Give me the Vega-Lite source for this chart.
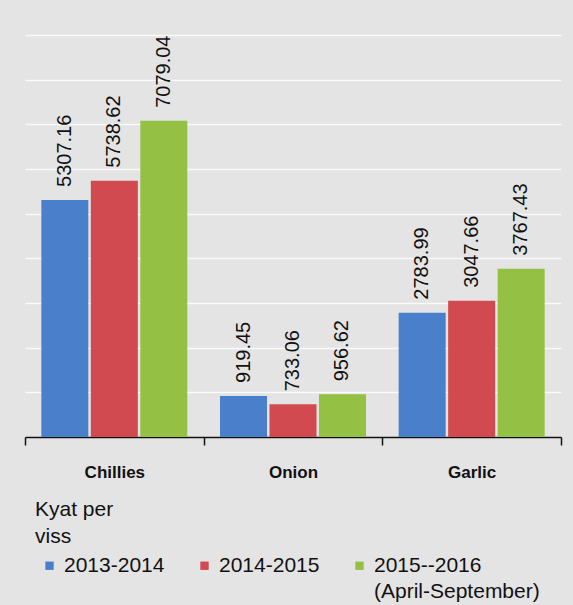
{
  "$schema": "https://vega.github.io/schema/vega-lite/v6.json",
  "width": 536,
  "height": 402,
  "autosize": {"type": "none"},
  "padding": {"left": 25, "top": 35, "right": 12, "bottom": 168},
  "background": "#e4e4e4",
  "config": {
    "view": {"stroke": null},
    "font": "Liberation Sans",
    "style": {"guide-label": {"lineHeight": 26}}
  },
  "data": {
    "values": [
      {"crop": "Chillies", "period": "2013-2014", "price": 5307.16},
      {"crop": "Chillies", "period": "2014-2015", "price": 5738.62},
      {"crop": "Chillies", "period": "2015--2016 (April-September)", "price": 7079.04},
      {"crop": "Onion", "period": "2013-2014", "price": 919.45},
      {"crop": "Onion", "period": "2014-2015", "price": 733.06},
      {"crop": "Onion", "period": "2015--2016 (April-September)", "price": 956.62},
      {"crop": "Garlic", "period": "2013-2014", "price": 2783.99},
      {"crop": "Garlic", "period": "2014-2015", "price": 3047.66},
      {"crop": "Garlic", "period": "2015--2016 (April-September)", "price": 3767.43}
    ]
  },
  "encoding": {
    "x": {
      "field": "crop", "type": "nominal", "sort": ["Chillies", "Onion", "Garlic"],
      "scale": {"paddingInner": 0, "paddingOuter": 0},
      "axis": {
        "title": null, "labelAngle": 0, "labelFontWeight": "bold", "labelFontSize": 17,
        "labelColor": "#111", "labelPadding": 19, "tickBand": "extent", "tickSize": 8,
        "tickColor": "#111", "tickWidth": 1.5, "domainColor": "#111", "domainWidth": 1.5,
        "grid": false
      }
    },
    "xOffset": {"field": "period", "type": "nominal", "scale": {"paddingInner": 0.05, "paddingOuter": 0.33}},
    "y": {
      "field": "price", "type": "quantitative",
      "scale": {"domain": [0, 9000]},
      "axis": {
        "title": null, "labels": false, "ticks": false, "domain": false,
        "gridColor": "#ffffff", "gridWidth": 1.5, "gridOpacity": 0.8,
        "values": [1000, 2000, 3000, 4000, 5000, 6000, 7000, 8000, 9000]
      }
    }
  },
  "layer": [
    {
      "mark": {"type": "bar"},
      "encoding": {
        "color": {
          "field": "period", "type": "nominal",
          "scale": {
            "domain": ["2013-2014", "2014-2015", "2015--2016 (April-September)"],
            "range": ["#4a80cb", "#d04a4f", "#94c043"]
          },
          "legend": {
            "orient": "none", "legendX": 10, "legendY": 464, "direction": "horizontal",
            "padding": 0,
            "title": ["Kyat per", "viss"],
            "titleFontWeight": "normal", "titleFontSize": 21, "titleColor": "#111",
            "titleLineHeight": 27, "titlePadding": 8,
            "symbolType": "square", "symbolSize": 70, "symbolStrokeWidth": 0,
            "symbolOffset": 4,
            "labelFontSize": 21, "labelColor": "#111", "labelOffset": 4,
            "columnPadding": 25, "labelLimit": 300,
            "labelExpr": "datum.label == '2015--2016 (April-September)' ? ['2015--2016', '(April-September)'] : [datum.label, '\u00a0']"
          }
        }
      }
    },
    {
      "mark": {"type": "text", "angle": 270, "align": "left", "baseline": "middle", "dx": 13, "fontSize": 20, "color": "#111"},
      "encoding": {
        "text": {"field": "price", "type": "quantitative", "format": ".2f"}
      }
    }
  ]
}
